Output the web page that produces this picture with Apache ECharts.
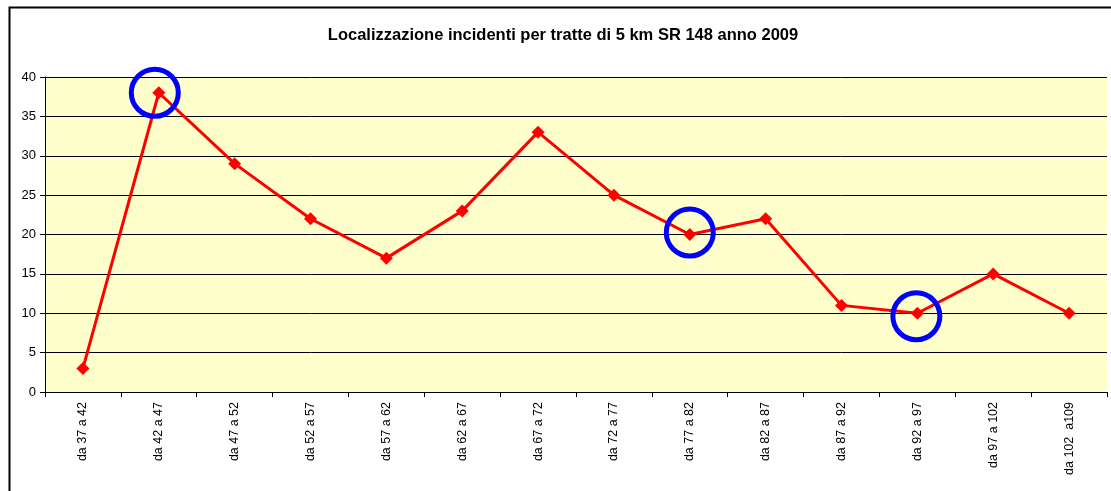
<!DOCTYPE html>
<html><head><meta charset="utf-8">
<script src="https://cdn.jsdelivr.net/npm/echarts@6/dist/echarts.min.js"></script>
<style>html,body{margin:0;padding:0;background:#fff}#c{width:1111px;height:491px}</style>
</head><body><div id="c"></div>
<script>
var categories = ['da 37 a 42','da 42 a 47','da 47 a 52','da 52 a 57','da 57 a 62','da 62 a 67','da 67 a 72','da 72 a 77','da 77 a 82','da 82 a 87','da 87 a 92','da 92 a 97','da 97 a 102','da 102  a109'];
var values = [3, 38, 29, 22, 17, 23, 33, 25, 20, 22, 11, 10, 15, 10];
var circled = [1, 8, 11];
var circleOffsets = [[-4, 0], [0, -2], [-1, 3]];
var yTicks = {min: 0, max: 40, interval: 5};

var chart = echarts.init(document.getElementById('c'));
chart.setOption({
  animation: false,
  backgroundColor: '#fff',
  title: {
    text: 'Localizzazione incidenti per tratte di 5 km SR 148 anno 2009',
    left: 558, top: 22, textAlign: 'center',
    textStyle: {fontFamily: 'Liberation Sans, Arial', fontSize: 16.5, fontWeight: 'bold', color: '#000'}
  },
  graphic: [{
    type: 'rect', left: 7, top: 5, z: -1, silent: true,
    shape: {width: 1200, height: 600},
    style: {fill: null, stroke: '#000', lineWidth: 2}
  }],
  grid: {left: 45, right: 4, top: 77, bottom: 99, backgroundColor: '#FFFFCC', show: true, borderWidth: 0},
  xAxis: {
    type: 'category', data: categories, boundaryGap: true,
    axisLine: {lineStyle: {color: '#000', width: 1}},
    axisTick: {show: true, alignWithLabel: false, length: 5, lineStyle: {color: '#000'}},
    axisLabel: {rotate: 90, interval: 0, margin: 10, color: '#000', fontFamily: 'Liberation Sans, Arial', fontSize: 12.5}
  },
  yAxis: {
    type: 'value', min: yTicks.min, max: yTicks.max, interval: yTicks.interval,
    axisLine: {show: true, lineStyle: {color: '#000', width: 1}},
    axisTick: {show: true, inside: false, length: 5, lineStyle: {color: '#000'}},
    axisLabel: {color: '#000', fontFamily: 'Liberation Sans, Arial', fontSize: 13, margin: 9},
    splitLine: {show: true, lineStyle: {color: '#000', width: 1}}
  },
  series: [{
    type: 'line', data: values,
    lineStyle: {color: '#FF0000', width: 3},
    itemStyle: {color: '#FF0000'},
    symbol: 'diamond', symbolSize: 13, z: 3
  }, {
    type: 'scatter',
    data: circled.map(function (i, k) {
      return {value: [i, values[i]], symbolOffset: circleOffsets[k]};
    }),
    symbol: 'circle', symbolSize: 47,
    itemStyle: {color: 'rgba(0,0,0,0)', borderColor: '#0000FF', borderWidth: 5, opacity: 1},
    z: 4
  }]
});
</script>
</body></html>
